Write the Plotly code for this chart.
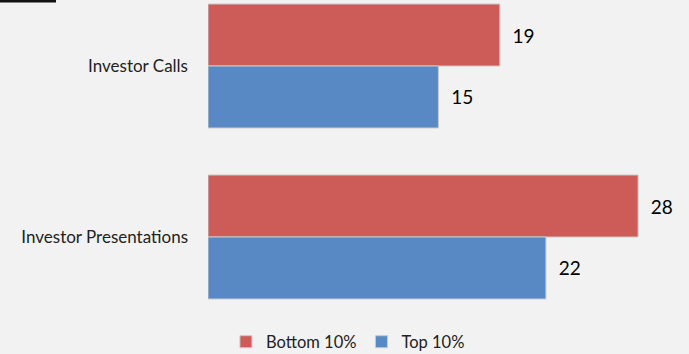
import plotly.graph_objects as go

categories = ["Investor Calls", "Investor Presentations"]
bottom_10 = [19, 28]
top_10 = [15, 22]
series_names = ["Bottom 10%", "Top 10%"]

W, H = 689, 354
L, R, T, B = 208, 29, 0, 44
fig = go.Figure()
fig.add_trace(go.Bar(
    y=categories, x=bottom_10, orientation="h", name=series_names[0],
    marker=dict(color="#CD5B58", line=dict(color="#C9C9C9", width=1)),
    text=bottom_10, textposition="outside", texttemplate="  %{x}",
    textfont=dict(size=19, color="#000000", family="Lato"), cliponaxis=False,
))
fig.add_trace(go.Bar(
    y=categories, x=top_10, orientation="h", name=series_names[1],
    marker=dict(color="#5889C5", line=dict(color="#C9C9C9", width=1)),
    text=top_10, textposition="outside", texttemplate="  %{x}",
    textfont=dict(size=19, color="#000000", family="Lato"), cliponaxis=False,
))

fig.add_shape(type="line", xref="paper", yref="paper", x0=-L / (W - L - R), x1=(56 - L) / (W - L - R),
              y0=0.997, y1=0.997, line=dict(color="#111111", width=3))

plot_w = W - L - R
fig.update_layout(
    width=W, height=H,
    margin=dict(l=L, r=R, t=T, b=B),
    paper_bgcolor="#F2F2F2", plot_bgcolor="#F2F2F2",
    barmode="group", bargap=0.275, bargroupgap=0,
    font=dict(family="Lato", color="#222222"),
    showlegend=True,
    legend=dict(orientation="h", xref="container", yref="container", x=0.505, y=0.034,
                xanchor="center", yanchor="middle", font=dict(size=16.5, color="#222222"),
                traceorder="normal", itemwidth=30),
    xaxis=dict(range=[0, plot_w / 15.36], showgrid=False, zeroline=False,
               showticklabels=False, showline=False),
    yaxis=dict(type="category", categoryorder="array", categoryarray=categories,
               range=[1.427, -0.386], showgrid=False, zeroline=False, showline=False,
               tickfont=dict(size=17, color="#222222"), ticks="", ticklabelstandoff=19),
)

fig.write_html("out.html", config={"displayModeBar": False},
               post_script="document.body.style.margin='0';document.body.style.background='#F2F2F2';")
